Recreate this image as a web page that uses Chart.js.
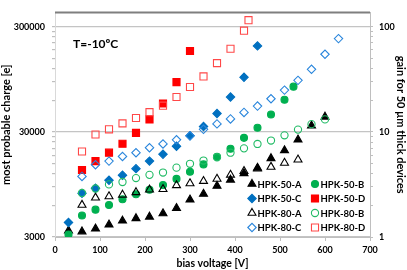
<!DOCTYPE html>
<html>
<head>
<meta charset="utf-8">
<script src="https://cdn.jsdelivr.net/npm/chart.js@4.4.1/dist/chart.umd.min.js"></script>
<style>
  html, body { margin: 0; padding: 0; background: #fff; }
  #wrap { width: 407px; height: 270px; }
</style>
</head>
<body>
<div id="wrap"><canvas id="chart" width="407" height="270"></canvas></div>
<script>
// bias voltage [V] and most probable charge [e] per device
const hpk50A_V = [30, 60, 90, 120, 150, 180, 210, 240, 270, 300, 330, 360, 390, 420, 450, 480, 510, 540, 570, 600];
const hpk50A_Q = [3450, 3380, 3600, 3930, 4280, 4520, 4670, 5020, 5640, 6800, 7700, 9190, 10500, 12100, 13600, 16800, 20000, 25300, 34400, 41700];

const hpk50B_V = [30, 60, 90, 120, 150, 180, 210, 240, 270, 300, 330, 360, 390, 420, 450, 480, 510, 530];
const hpk50B_Q = [3170, 4800, 5460, 6050, 6860, 7660, 8450, 9360, 10700, 12500, 14700, 17400, 20700, 26300, 32800, 43800, 60500, 80700];

const hpk50C_V = [30, 60, 90, 120, 150, 180, 210, 240, 270, 300, 330, 360, 390, 420, 450];
const hpk50C_Q = [4120, 7800, 8740, 10400, 11600, 13400, 15800, 18400, 21900, 27500, 33700, 44800, 64300, 99000, 197000];

const hpk50D_V = [60, 90, 120, 150, 180, 210, 240, 270, 300];
const hpk50D_Q = [13000, 15800, 19000, 23100, 29300, 39400, 55800, 89200, 176000];

const hpk80A_V = [60, 90, 120, 150, 180, 210, 240, 270, 300, 330, 360, 390, 420, 450, 480, 510, 540];
const hpk80A_Q = [6050, 7090, 7300, 7560, 7980, 8450, 8550, 9300, 9700, 10200, 10700, 11700, 12700, 13400, 13900, 15200, 16300];

const hpk80B_V = [60, 90, 120, 150, 180, 210, 240, 270, 300, 330, 360, 390, 420, 450, 480, 510, 540, 570, 600];
const hpk80B_Q = [7870, 8680, 9490, 10000, 10900, 11700, 12300, 13700, 14900, 16000, 17200, 19000, 20900, 23000, 24800, 27800, 31500, 35500, 39400];

const hpk80C_V = [60, 90, 120, 150, 180, 210, 240, 270, 300, 330, 360, 390, 420, 450, 480, 510, 540, 570, 600, 630];
const hpk80C_Q = [11300, 14600, 15800, 17500, 19000, 21200, 23000, 25200, 27500, 31700, 35700, 39800, 45900, 52700, 61900, 74800, 92600, 118000, 164000, 231000];

const hpk80D_V = [60, 90, 120, 150, 180, 210, 240, 270, 300, 330, 360, 390, 420, 430];
const hpk80D_Q = [19500, 28300, 31700, 36100, 40600, 46200, 53200, 64300, 80100, 101000, 135000, 185000, 275000, 346000];

// axes
const voltTicks   = [0, 100, 200, 300, 400, 500, 600, 700];
const chargeMajor = [3000, 30000, 300000];
const gainMajor   = [1, 10, 100];
const chargeMax   = 410000;
const gainPerE    = 3000;   // right axis = charge / 3000

const FONT = 'Lato, "Liberation Sans", sans-serif';

// log minor ticks at 2..9 x each decade start
const logTicks = (majors, max) => {
  const out = [];
  majors.forEach(m => {
    for (let k = 1; k <= 9; k++) if (m * k <= max) out.push(m * k);
  });
  return [...new Set(out)];
};

const pts = (v, q) => v.map((x, i) => ({ x, y: q[i] }));

const series = [
  { label: 'HPK-50-A', v: hpk50A_V, q: hpk50A_Q, style: 'triangle', r: 4.6, fill: '#000000', line: '#000000' },
  { label: 'HPK-50-B', v: hpk50B_V, q: hpk50B_Q, style: 'circle',   r: 3.5, fill: '#00b050', line: '#00b050' },
  { label: 'HPK-50-C', v: hpk50C_V, q: hpk50C_Q, style: 'rectRot',  r: 4.2, fill: '#0070c0', line: '#0070c0' },
  { label: 'HPK-50-D', v: hpk50D_V, q: hpk50D_Q, style: 'rect',     r: 5,   fill: '#ff0000', line: '#ff0000' },
  { label: 'HPK-80-A', v: hpk80A_V, q: hpk80A_Q, style: 'triangle', r: 4.6, fill: 'rgba(0,0,0,0)', line: '#000000' },
  { label: 'HPK-80-B', v: hpk80B_V, q: hpk80B_Q, style: 'circle',   r: 3.6, fill: 'rgba(0,0,0,0)', line: '#22bb66' },
  { label: 'HPK-80-C', v: hpk80C_V, q: hpk80C_Q, style: 'rectRot',  r: 4.2, fill: 'rgba(0,0,0,0)', line: '#2a86dc' },
  { label: 'HPK-80-D', v: hpk80D_V, q: hpk80D_Q, style: 'rect',     r: 5,   fill: 'rgba(0,0,0,0)', line: '#ff4848' }
];

const datasets = series.map((s, i) => ({
  label: s.label,
  data: pts(s.v, s.q),
  pointStyle: s.style,
  pointRadius: s.r,
  pointHoverRadius: s.r,
  backgroundColor: s.fill,
  borderColor: s.line,
  borderWidth: 1.1,
  showLine: false,
  order: series.length - i
}));

const frame = {
  id: 'frame',
  afterDraw(chart) {
    const { ctx, chartArea: a } = chart;
    ctx.save();
    ctx.strokeStyle = '#7f7f7f';
    ctx.lineWidth = 2;
    ctx.beginPath();
    ctx.moveTo(a.left, a.top);
    ctx.lineTo(a.right, a.top);
    ctx.stroke();

    ctx.fillStyle = '#000';
    ctx.font = 'bold 12px ' + FONT;
    ctx.textBaseline = 'middle';
    ctx.fillText('T=-10ºC', a.left + 18, a.top + 32);

    // legend, 2 columns x 4 rows
    ctx.font = 'bold 9.5px ' + FONT;
    series.forEach((s, i) => {
      const col = i % 2, row = Math.floor(i / 2);
      const mx = a.right - 118 + col * 63;
      const my = a.bottom - 53 + row * 14.5;
      ctx.fillStyle = s.fill;
      ctx.strokeStyle = s.line;
      ctx.lineWidth = 1.1;
      Chart.helpers.drawPoint(ctx, { pointStyle: s.style, radius: s.r, borderWidth: 1.1, rotation: 0 }, mx, my);
      ctx.fillStyle = '#000';
      ctx.fillText(s.label, mx + 5.5, my + 0.5);
    });
    ctx.restore();
  }
};

new Chart(document.getElementById('chart'), {
  type: 'scatter',
  data: { datasets },
  plugins: [frame],
  options: {
    responsive: false,
    devicePixelRatio: 1,
    animation: false,
    layout: { padding: { top: 1, left: 0, right: 0, bottom: 0 } },
    plugins: { legend: { display: false }, tooltip: { enabled: false } },
    scales: {
      x: {
        type: 'linear', min: 0, max: 700,
        afterBuildTicks: s => { s.ticks = voltTicks.map(v => ({ value: v })); },
        afterFit: s => { s.height = 33; },
        border: { color: '#bfbfbf', width: 1 },
        grid: { drawOnChartArea: false, color: '#bfbfbf', tickLength: 4 },
        ticks: { autoSkip: false, maxRotation: 0, padding: 4, color: '#000', font: { family: FONT, size: 9, weight: 'bold' } },
        title: { display: true, text: 'bias voltage [V]', color: '#000', padding: { top: 0, bottom: 0 }, font: { family: FONT, size: 10.5, weight: 'bold' } }
      },
      y: {
        type: 'logarithmic', position: 'left', min: 3000, max: chargeMax,
        afterBuildTicks: s => { s.ticks = logTicks(chargeMajor, chargeMax).map(v => ({ value: v })); },
        afterFit: s => { s.width = 55; },
        border: { color: '#d9d9d9', width: 1 },
        grid: {
          color: c => chargeMajor.includes(c.tick && c.tick.value) ? '#c4c4c4' : 'rgba(0,0,0,0)',
          tickColor: '#bfbfbf', tickLength: 3, lineWidth: 1.2
        },
        ticks: {
          autoSkip: false, padding: 7, color: '#000',
          font: { family: FONT, size: 9, weight: 'bold' },
          callback: v => chargeMajor.includes(v) ? String(v) : ''
        },
        title: { display: true, text: 'most probable charge [e]', color: '#000', padding: { top: 0, bottom: 0 }, font: { family: FONT, size: 11, weight: 'bold' } }
      },
      y2: {
        type: 'logarithmic', position: 'right', min: 1, max: chargeMax / gainPerE,
        afterBuildTicks: s => { s.ticks = logTicks(gainMajor, chargeMax / gainPerE).map(v => ({ value: v })); },
        afterFit: s => { s.width = 37; },
        border: { color: '#bfbfbf', width: 1 },
        grid: { drawOnChartArea: false, color: '#bfbfbf', tickLength: 3 },
        ticks: {
          autoSkip: false, padding: 6, color: '#000',
          font: { family: FONT, size: 9, weight: 'bold' },
          callback: v => gainMajor.includes(v) ? String(v) : ''
        },
        title: { display: true, text: 'gain for 50 µm thick devices', color: '#000', padding: { top: 0, bottom: 0 }, font: { family: FONT, size: 11, weight: 'bold' } }
      }
    }
  }
});
</script>
</body>
</html>
